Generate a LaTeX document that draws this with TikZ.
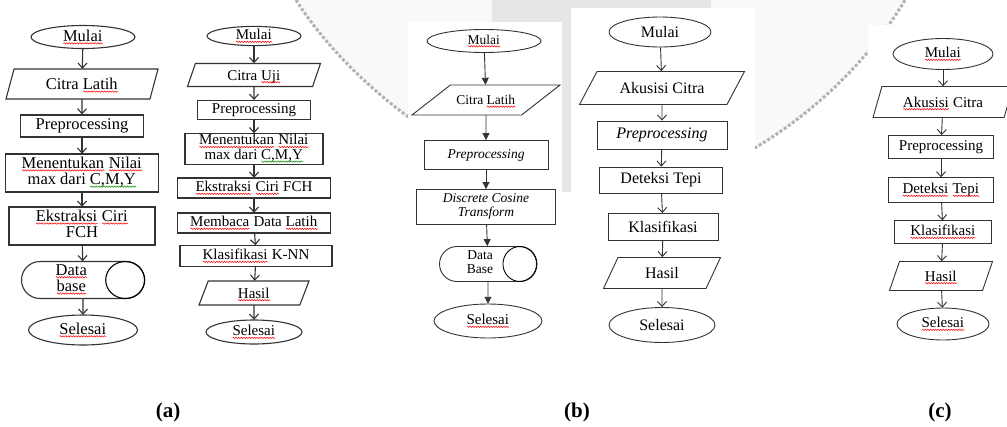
\documentclass[tikz,border=0pt]{standalone}
\usepackage{fontspec}
\setmainfont{Liberation Serif}
\usetikzlibrary{shapes.geometric,shapes.misc,arrows.meta,decorations.pathmorphing}

% spell-check squiggles
\newsavebox\sqbox
\newcommand\squig[2]{\sbox\sqbox{#2}\usebox\sqbox\hspace{-\wd\sqbox}%
  \tikz[baseline=0pt, x=1pt, y=1pt]{\draw[#1, line width=0.5pt, decorate,
    decoration={snake, amplitude=0.7pt, segment length=2.6pt}] (0,-2.2) -- (\the\wd\sqbox,-2.2);}}
\newcommand\spell[1]{\squig{red}{#1}}
\newcommand\gram[1]{\squig{green!55!black}{#1}}
\newcommand\twoline[2]{\begin{tabular}{@{}c@{}}#1\\#2\end{tabular}}

\definecolor{ink}{HTML}{333333}
\definecolor{band}{HTML}{E6E6E9}

\begin{document}
\begin{tikzpicture}[x=1pt, y=-1pt,
  term/.style={ellipse, draw=ink, inner sep=0pt},
  proc/.style={rectangle, draw=ink, inner sep=0pt},
  io/.style 2 args={trapezium, draw=ink, inner sep=0pt, trapezium stretches body,
    trapezium left angle=#1, trapezium right angle=#2},
  ht/.style 2 args={text height=#1pt, text depth=#2pt},
  dbase/.style={rounded rectangle, draw=ink, inner sep=0pt},
  sz/.style 2 args={minimum width=#1pt, minimum height=#2pt},
  flow/.style={draw=ink, -{Straight Barb[length=5pt,width=9pt]}},
  flowb/.style={draw=ink, -{Triangle[length=7pt,width=7pt]}},
  lbl/.style={font=\fontsize{21}{22}\selectfont\bfseries}]
  \useasboundingbox (0,0) rectangle (1007,426);

  % Watermark and page panels
  \fill[gray!5] (296,0) .. controls (340,70) and (450,175) .. (590,192)
        .. controls (700,205) and (840,110) .. (905,0) -- cycle;
  \draw[gray!60, line width=3pt, dash pattern=on 3pt off 2pt] (296,0) .. controls (340,70) and (450,175) .. (590,192)
        .. controls (700,205) and (840,110) .. (905,0);
  \fill[band] (492,0) rectangle (711,192);
  \fill[white] (408,22) rectangle (562,426);
  \fill[white] (571,8) rectangle (755,426);
  \fill[white] (562,192) rectangle (571,426);
  \fill[white] (868,25) rectangle (1007,426);

  % (a) left: training
  \begin{scope}[font=\fontsize{16.5}{16}\selectfont, line width=1.1pt]
    \node[term, sz={104}{23}] (a1m) at (83,37) {\spell{Mulai}};
    \node[io={75}{105}, ht={20.4}{9.6}, sz={152}{30}] (a1c) at (82,84) {Citra \spell{Latih}};
    \node[proc, sz={123}{22}] (a1p) at (82,126) {Preprocessing};
    \node[proc, sz={153}{38}] (a1n) at (82,173) {\twoline{\spell{Menentukan} \spell{Nilai}}{max dari \gram{C,M,Y}}};
    \node[proc, sz={146}{38}] (a1e) at (82,226) {\twoline{\spell{Ekstraksi} \spell{Ciri}}{FCH}};
    \node[dbase, sz={123}{37}] (a1d) at (83,280) {\twoline{\spell{Data}}{\spell{base}}\hspace{23pt}\mbox{}};
    \draw ([xshift=-19.5pt]a1d.east) ellipse [x radius=19.5pt, y radius=18.5pt];
    \node[term, sz={109}{30}] (a1s) at (83,330) {\spell{Selesai}};
    \foreach \u/\v in {a1m/a1c, a1c/a1p, a1p/a1n, a1n/a1e, a1e/a1d, a1d/a1s}
      \draw[flow] (\u) -- (\v);
  \end{scope}

  % (a) right: testing
  \begin{scope}[font=\fontsize{15}{14}\selectfont, line width=1.1pt]
    \node[term, sz={94}{19}] (a2m) at (254,36) {\spell{Mulai}};
    \node[io={71}{109}, ht={16.5}{6.5}, sz={133}{23}] (a2c) at (254,75) {Citra \spell{Uji}};
    \node[proc, sz={113}{19}] (a2p) at (254,110) {Preprocessing};
    \node[proc, sz={138}{31}] (a2n) at (254,149) {\twoline{\spell{Menentukan} \spell{Nilai}}{max dari \gram{C,M,Y}}};
    \node[proc, sz={153}{20}] (a2e) at (254,188) {\spell{Ekstraksi} \spell{Ciri} FCH};
    \node[proc, sz={153}{20}] (a2b) at (254,223) {\spell{Membaca} Data \spell{Latih}};
    \node[proc, sz={152}{21}] (a2k) at (256,256) {\spell{Klasifikasi} K-NN};
    \node[io={69}{111}, ht={17}{7}, sz={110}{24}] (a2h) at (254,293) {\spell{Hasil}};
    \node[term, sz={96}{24}] (a2s) at (254,332) {\spell{Selesai}};
    \foreach \u/\v in {a2m/a2c, a2c/a2p, a2p/a2n, a2n/a2e, a2e/a2b, a2b/a2k, a2k/a2h, a2h/a2s}
      \draw[flow] (\u) -- (\v);
  \end{scope}

  % (b) left: DCT
  \begin{scope}[font=\fontsize{13.5}{14}\selectfont, line width=0.9pt]
    \node[term, sz={114}{23}] (b1m) at (484,41) {\spell{Mulai}};
    \node[io={38}{142}, ht={19.5}{10.5}, sz={148}{30}] (b1c) at (486,100) {Citra \spell{Latih}};
    \node[proc, sz={124}{29}, font=\fontsize{13.5}{14}\selectfont\itshape] (b1p) at (486,155) {Preprocessing};
    \node[proc, sz={139}{35}, font=\fontsize{13.5}{14}\selectfont\itshape] (b1t) at (486,207) {\twoline{Discrete Cosine}{Transform}};
    \node[dbase, sz={97}{35}] (b1d) at (488,264) {\twoline{Data}{Base}\hspace{16pt}\mbox{}};
    \draw ([xshift=-17pt]b1d.east) ellipse [x radius=17pt, y radius=17.5pt];
    \node[term, sz={108}{34}, font=\fontsize{15}{16}\selectfont] (b1s) at (488,321) {\spell{Selesai}};
    \foreach \u/\v in {b1m/b1c, b1c/b1p, b1p/b1t, b1t/b1d, b1d/b1s}
      \draw[flowb] (\u) -- (\v);
  \end{scope}

  % (b) right: edge detection
  \begin{scope}[font=\fontsize{16}{16}\selectfont, line width=0.9pt]
    \node[term, sz={102}{30}] (b2m) at (660,32) {Mulai};
    \node[io={62}{118}, ht={21.8}{11.2}, sz={165}{33}] (b2c) at (662,88) {Akusisi Citra};
    \node[proc, sz={130}{28}, font=\fontsize{16}{16}\selectfont\itshape] (b2p) at (662,135) {Preprocessing};
    \node[proc, sz={123}{26}] (b2d) at (661,180) {Deteksi Tepi};
    \node[proc, sz={110}{27}] (b2k) at (663,227) {Klasifikasi};
    \node[io={65}{115}, ht={20.8}{10.2}, sz={117}{31}] (b2h) at (662,273) {Hasil};
    \node[term, sz={106}{35}] (b2s) at (662,325) {Selesai};
    \foreach \u/\v in {b2m/b2c, b2c/b2p, b2p/b2d, b2d/b2k, b2k/b2h, b2h/b2s}
      \draw[flow] (\u) -- (\v);
  \end{scope}

  % (c)
  \begin{scope}[font=\fontsize{15}{15}\selectfont, line width=0.9pt]
    \node[term, sz={100}{31}] (cm) at (943,54) {\spell{Mulai}};
    \node[io={74}{106}, ht={20.5}{10.5}, sz={140}{31}] (cc) at (943,102) {\spell{Akusisi} Citra};
    \node[proc, sz={105}{23}] (cp) at (941,147) {Preprocessing};
    \node[proc, sz={105}{25}] (cd) at (941,190) {\spell{Deteksi} \spell{Tepi}};
    \node[proc, sz={97}{23}] (ck) at (943,232) {\spell{Klasifikasi}};
    \node[io={71}{109}, ht={19.5}{9.5}, sz={103}{29}] (ch) at (941,276) {\spell{Hasil}};
    \node[term, sz={92}{32}] (cs) at (943,324) {\spell{Selesai}};
    \foreach \u/\v in {cm/cc, cc/cp, cp/cd, cd/ck, ck/ch, ch/cs}
      \draw[flow] (\u) -- (\v);
  \end{scope}

  % Sub-figure labels
  \node[lbl] (la) at (168,412) {(a)};
  \node[lbl] (lb) at (577,412) {(b)};
  \node[lbl] (lc) at (940,412) {(c)};

\end{tikzpicture}
\end{document}
